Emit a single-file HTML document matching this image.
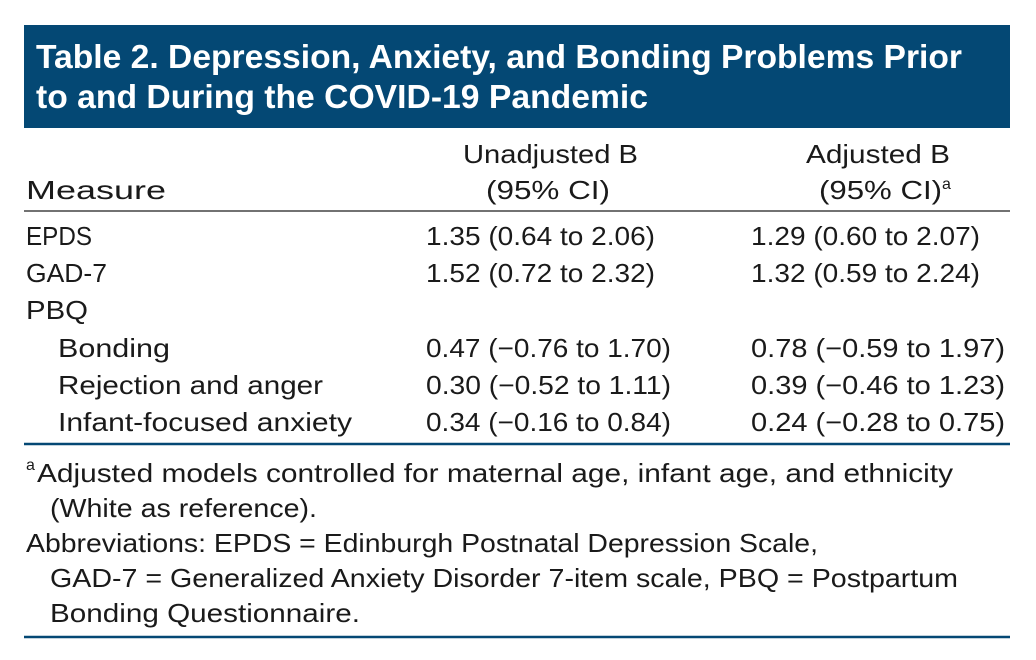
<!DOCTYPE html>
<html><head><meta charset="utf-8"><style>
html,body{margin:0;padding:0;background:#fff;}
svg{display:block;font-family:"Liberation Sans",sans-serif;}
</style></head><body>
<svg width="1036" height="660" viewBox="0 0 1036 660">
<rect x="24" y="25" width="986" height="103" fill="#044874"/>
<g fill="#fff" font-weight="bold" font-size="33">
<text x="36" y="68" textLength="926" lengthAdjust="spacingAndGlyphs">Table 2. Depression, Anxiety, and Bonding Problems Prior</text>
<text x="36" y="108" textLength="612" lengthAdjust="spacingAndGlyphs">to and During the COVID-19 Pandemic</text>
</g>
<g fill="#1a1a1a" font-size="26">
<text x="26" y="199" textLength="140" lengthAdjust="spacingAndGlyphs">Measure</text>
<text x="463" y="163" textLength="175" lengthAdjust="spacingAndGlyphs">Unadjusted B</text>
<text x="486" y="199" textLength="124" lengthAdjust="spacingAndGlyphs">(95% CI)</text>
<text x="806" y="163" textLength="144" lengthAdjust="spacingAndGlyphs">Adjusted B</text>
<text x="819" y="199" textLength="123" lengthAdjust="spacingAndGlyphs">(95% CI)</text>
<text x="942" y="189" font-size="16">a</text>
</g>
<line x1="24" y1="211" x2="1010" y2="211" stroke="#444" stroke-width="1.5"/>
<g fill="#1a1a1a" font-size="26">
<text x="26" y="245" textLength="66" lengthAdjust="spacingAndGlyphs">EPDS</text>
<text x="426" y="245" textLength="229" lengthAdjust="spacingAndGlyphs">1.35 (0.64 to 2.06)</text>
<text x="751" y="245" textLength="229" lengthAdjust="spacingAndGlyphs">1.29 (0.60 to 2.07)</text>
<text x="26" y="282" textLength="81" lengthAdjust="spacingAndGlyphs">GAD-7</text>
<text x="426" y="282" textLength="229" lengthAdjust="spacingAndGlyphs">1.52 (0.72 to 2.32)</text>
<text x="751" y="282" textLength="229" lengthAdjust="spacingAndGlyphs">1.32 (0.59 to 2.24)</text>
<text x="26" y="319" textLength="62" lengthAdjust="spacingAndGlyphs">PBQ</text>
<text x="58" y="357" textLength="112" lengthAdjust="spacingAndGlyphs">Bonding</text>
<text x="426" y="357" textLength="245" lengthAdjust="spacingAndGlyphs">0.47 (−0.76 to 1.70)</text>
<text x="751" y="357" textLength="254" lengthAdjust="spacingAndGlyphs">0.78 (−0.59 to 1.97)</text>
<text x="58" y="394" textLength="265" lengthAdjust="spacingAndGlyphs">Rejection and anger</text>
<text x="426" y="394" textLength="245" lengthAdjust="spacingAndGlyphs">0.30 (−0.52 to 1.11)</text>
<text x="751" y="394" textLength="254" lengthAdjust="spacingAndGlyphs">0.39 (−0.46 to 1.23)</text>
<text x="58" y="431" textLength="294" lengthAdjust="spacingAndGlyphs">Infant-focused anxiety</text>
<text x="426" y="431" textLength="245" lengthAdjust="spacingAndGlyphs">0.34 (−0.16 to 0.84)</text>
<text x="751" y="431" textLength="254" lengthAdjust="spacingAndGlyphs">0.24 (−0.28 to 0.75)</text>
</g>
<line x1="24" y1="444" x2="1010" y2="444" stroke="#044874" stroke-width="2.5"/>
<g fill="#1a1a1a" font-size="26">
<text x="26" y="470" font-size="16">a</text>
<text x="37" y="482" textLength="916" lengthAdjust="spacingAndGlyphs">Adjusted models controlled for maternal age, infant age, and ethnicity</text>
<text x="50" y="517" textLength="267" lengthAdjust="spacingAndGlyphs">(White as reference).</text>
<text x="26" y="552" textLength="792" lengthAdjust="spacingAndGlyphs">Abbreviations: EPDS = Edinburgh Postnatal Depression Scale,</text>
<text x="50" y="587" textLength="908" lengthAdjust="spacingAndGlyphs">GAD-7 = Generalized Anxiety Disorder 7-item scale, PBQ = Postpartum</text>
<text x="50" y="622" textLength="310" lengthAdjust="spacingAndGlyphs">Bonding Questionnaire.</text>
</g>
<line x1="24" y1="637" x2="1010" y2="637" stroke="#044874" stroke-width="2.5"/>
</svg>
</body></html>
